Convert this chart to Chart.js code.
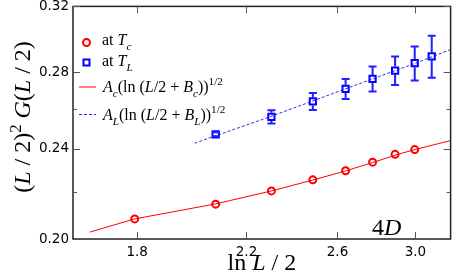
<!DOCTYPE html>
<html>
<head>
<meta charset="utf-8">
<script src="https://cdn.jsdelivr.net/npm/chart.js@4/dist/chart.umd.min.js"></script>
<style>
    html, body { margin: 0; padding: 0; background: #fff; }
    #box { width: 457px; height: 279px; }
</style>
</head>
<body>
<div id="box"><canvas id="myChart"></canvas></div>
<script>
// ln(L/2) for L/2 = 6..22
var tcX = [1.792, 2.079, 2.303, 2.485, 2.639, 2.773, 2.890, 2.996];
var tcY = [0.2083, 0.2146, 0.2204, 0.2254, 0.2296, 0.2336, 0.2373, 0.2396];

var tlX = [2.079, 2.303, 2.485, 2.639, 2.773, 2.890, 2.996, 3.091];
var tlY = [0.2471, 0.2560, 0.2641, 0.2709, 0.2764, 0.2811, 0.2853, 0.2893];
var tlErr = [0.0010, 0.0034, 0.0045, 0.0055, 0.0070, 0.0081, 0.0098, 0.0122];

// fit curves
var fitCX = [1.65, 1.792, 2.079, 2.303, 2.485, 2.639, 2.773, 2.890, 2.996, 3.2];
var fitCY = [0.2028, 0.2083, 0.2147, 0.2204, 0.2253, 0.2295, 0.2334, 0.2369, 0.2396, 0.2440];
var fitLX = [2.0, 2.303, 2.639, 3.0, 3.2];
var fitLY = [0.2427, 0.2563, 0.2709, 0.2853, 0.2933];

var xTicks = [1.8, 2.2, 2.6, 3.0];
var yTicks = [0.20, 0.24, 0.28, 0.32];
var yMinor = [0.22, 0.26];

function pts(xs, ys) {
    return xs.map(function (x, i) { return {x: x, y: ys[i]}; });
}

var serif = '"Liberation Serif", "Times New Roman", serif';

function runs(ctx, list, x, y, size) {
    list.forEach(function (r) {
        var s = size * (r.s || 1);
        ctx.font = (r.i ? 'italic ' : '') + s + 'px ' + serif;
        ctx.fillText(r.t, x, y + (r.dy || 0));
        x += ctx.measureText(r.t).width;
    });
    return x;
}
function runsWidth(ctx, list, size) {
    var w = 0;
    list.forEach(function (r) {
        ctx.font = (r.i ? 'italic ' : '') + (size * (r.s || 1)) + 'px ' + serif;
        w += ctx.measureText(r.t).width;
    });
    return w;
}
function noPad(s) {
    s.paddingTop = 0; s.paddingBottom = 0; s.paddingLeft = 0; s.paddingRight = 0;
}

var decor = {
    id: 'decor',
    afterDatasetsDraw: function (chart) {
        var ctx = chart.ctx, xs = chart.scales.x, ys = chart.scales.y;
        var a = chart.chartArea;
        ctx.save();

        // error bars on T_L points (outside the square marker)
        ctx.strokeStyle = '#1f1fff';
        ctx.lineWidth = 2;
        tlX.forEach(function (v, i) {
            var px = xs.getPixelForValue(v);
            var py = ys.getPixelForValue(tlY[i]);
            var top = ys.getPixelForValue(tlY[i] + tlErr[i]);
            var bot = ys.getPixelForValue(tlY[i] - tlErr[i]);
            ctx.beginPath();
            if (py - top > 4) { ctx.moveTo(px, top); ctx.lineTo(px, py - 4); }
            if (bot - py > 4) { ctx.moveTo(px, py + 4); ctx.lineTo(px, bot); }
            ctx.moveTo(px - 4, top); ctx.lineTo(px + 4, top);
            ctx.moveTo(px - 4, bot); ctx.lineTo(px + 4, bot);
            ctx.stroke();
        });

        // frame
        ctx.strokeStyle = '#222';
        ctx.lineWidth = 1.5;
        ctx.strokeRect(a.left, a.top, a.right - a.left, a.bottom - a.top);

        // inward ticks
        ctx.strokeStyle = '#555';
        ctx.lineWidth = 1;
        ctx.beginPath();
        xTicks.forEach(function (v) {
            var px = Math.round(xs.getPixelForValue(v)) + 0.5;
            ctx.moveTo(px, a.bottom); ctx.lineTo(px, a.bottom - 7);
            ctx.moveTo(px, a.top); ctx.lineTo(px, a.top + 7);
        });
        yTicks.forEach(function (v) {
            var py = Math.round(ys.getPixelForValue(v)) + 0.5;
            ctx.moveTo(a.left, py); ctx.lineTo(a.left + 7, py);
            ctx.moveTo(a.right, py); ctx.lineTo(a.right - 7, py);
        });
        yMinor.forEach(function (v) {
            var py = Math.round(ys.getPixelForValue(v)) + 0.5;
            ctx.moveTo(a.left, py); ctx.lineTo(a.left + 4, py);
            ctx.moveTo(a.right, py); ctx.lineTo(a.right - 4, py);
        });
        ctx.stroke();

        // legend
        ctx.fillStyle = '#000';
        ctx.textBaseline = 'alphabetic';
        ctx.textAlign = 'left';
        ctx.lineWidth = 2;
        ctx.strokeStyle = '#ff0000';
        ctx.beginPath(); ctx.arc(86.5, 42.5, 3.5, 0, Math.PI * 2); ctx.stroke();
        ctx.strokeStyle = '#0000ff';
        ctx.strokeRect(83.5, 59.5, 6, 6);
        ctx.lineWidth = 1;
        ctx.strokeStyle = '#ff0000';
        ctx.beginPath(); ctx.moveTo(79, 87); ctx.lineTo(96, 87); ctx.stroke();
        ctx.strokeStyle = '#2a2aff';
        ctx.setLineDash([3, 2]);
        ctx.beginPath(); ctx.moveTo(79, 114.5); ctx.lineTo(96, 114.5); ctx.stroke();
        ctx.setLineDash([]);

        runs(ctx, [{t: 'at '}, {t: 'T', i: true}, {t: 'c', i: true, s: 0.7, dy: 5}], 102, 45, 16);
        runs(ctx, [{t: 'at '}, {t: 'T', i: true}, {t: 'L', i: true, s: 0.7, dy: 5}], 102, 65.5, 16);
        runs(ctx, [{t: 'A', i: true}, {t: 'c', i: true, s: 0.7, dy: 5}, {t: '(ln ('}, {t: 'L', i: true},
            {t: '/2 + '}, {t: 'B', i: true}, {t: 'c', i: true, s: 0.7, dy: 5}, {t: '))'},
            {t: '1/2', s: 0.7, dy: -7}], 103, 92, 16);
        runs(ctx, [{t: 'A', i: true}, {t: 'L', i: true, s: 0.7, dy: 5}, {t: '(ln ('}, {t: 'L', i: true},
            {t: '/2 + '}, {t: 'B', i: true}, {t: 'L', i: true, s: 0.7, dy: 5}, {t: '))'},
            {t: '1/2', s: 0.7, dy: -7}], 103, 119.5, 16);

        // 4D label
        runs(ctx, [{t: '4'}, {t: 'D', i: true}], 372, 235, 24);

        // x title
        var xt = [{t: 'ln '}, {t: 'L', i: true}, {t: ' / 2'}];
        var xw = runsWidth(ctx, xt, 24);
        runs(ctx, xt, (a.left + a.right) / 2 - xw / 2, 270, 24);

        // y title
        var yt = [{t: '('}, {t: 'L', i: true}, {t: ' / 2)'}, {t: '2', s: 0.7, dy: -9}, {t: ' '},
            {t: 'G', i: true}, {t: '('}, {t: 'L', i: true}, {t: ' / 2)'}];
        var yw = runsWidth(ctx, yt, 24);
        ctx.translate(30, 117);
        ctx.rotate(-Math.PI / 2);
        runs(ctx, yt, -yw / 2, 0, 24);

        ctx.restore();
    }
};

var area = document.getElementById("myChart").getContext("2d");
var urChart = new Chart(area, {
    type: 'scatter',
    data: {
        datasets: [{
            label: 'at Tc',
            data: pts(tcX, tcY),
            pointStyle: 'circle',
            pointRadius: 3.5,
            pointBorderWidth: 2,
            borderColor: '#ff0000',
            backgroundColor: 'rgba(0,0,0,0)',
            order: 0
        }, {
            label: 'at TL',
            data: pts(tlX, tlY),
            pointStyle: 'rect',
            pointRadius: 4.4,
            pointBorderWidth: 2,
            borderColor: '#0000ff',
            backgroundColor: 'rgba(0,0,0,0)',
            order: 0
        }, {
            label: 'fit c',
            data: pts(fitCX, fitCY),
            showLine: true,
            pointRadius: 0,
            borderWidth: 1,
            borderColor: '#ff0000',
            order: 1
        }, {
            label: 'fit L',
            data: pts(fitLX, fitLY),
            showLine: true,
            pointRadius: 0,
            borderWidth: 1,
            borderDash: [3, 2],
            borderColor: '#2a2aff',
            order: 1
        }]
    },
    options: {
        responsive: true,
        maintainAspectRatio: false,
        animation: false,
        layout: { padding: { top: 6, right: 1, left: 0, bottom: 0 } },
        scales: {
            x: {
                type: 'logarithmic',
                min: 1.6,
                max: 3.2,
                afterBuildTicks: function (s) { s.ticks = xTicks.map(function (v) { return {value: v}; }); },
                afterFit: function (s) { s.height = 40; noPad(s); },
                ticks: {
                    autoSkip: false,
                    maxRotation: 0,
                    padding: 5,
                    color: '#000',
                    font: { family: '"DejaVu Sans"', size: 13.5 },
                    callback: function (v) { return Number(v).toFixed(1); }
                },
                grid: { display: false, drawTicks: false },
                border: { display: false }
            },
            y: {
                type: 'logarithmic',
                min: 0.2,
                max: 0.32,
                afterBuildTicks: function (s) { s.ticks = yTicks.map(function (v) { return {value: v}; }); },
                afterFit: function (s) { s.width = 73; noPad(s); },
                ticks: {
                    autoSkip: false,
                    padding: 4,
                    color: '#000',
                    font: { family: '"DejaVu Sans"', size: 13.5 },
                    callback: function (v) { return Number(v).toFixed(2); }
                },
                grid: { display: false, drawTicks: false },
                border: { display: false }
            }
        },
        plugins: {
            legend: { display: false },
            tooltip: { enabled: false }
        }
    },
    plugins: [decor]
});
</script>
</body>
</html>
